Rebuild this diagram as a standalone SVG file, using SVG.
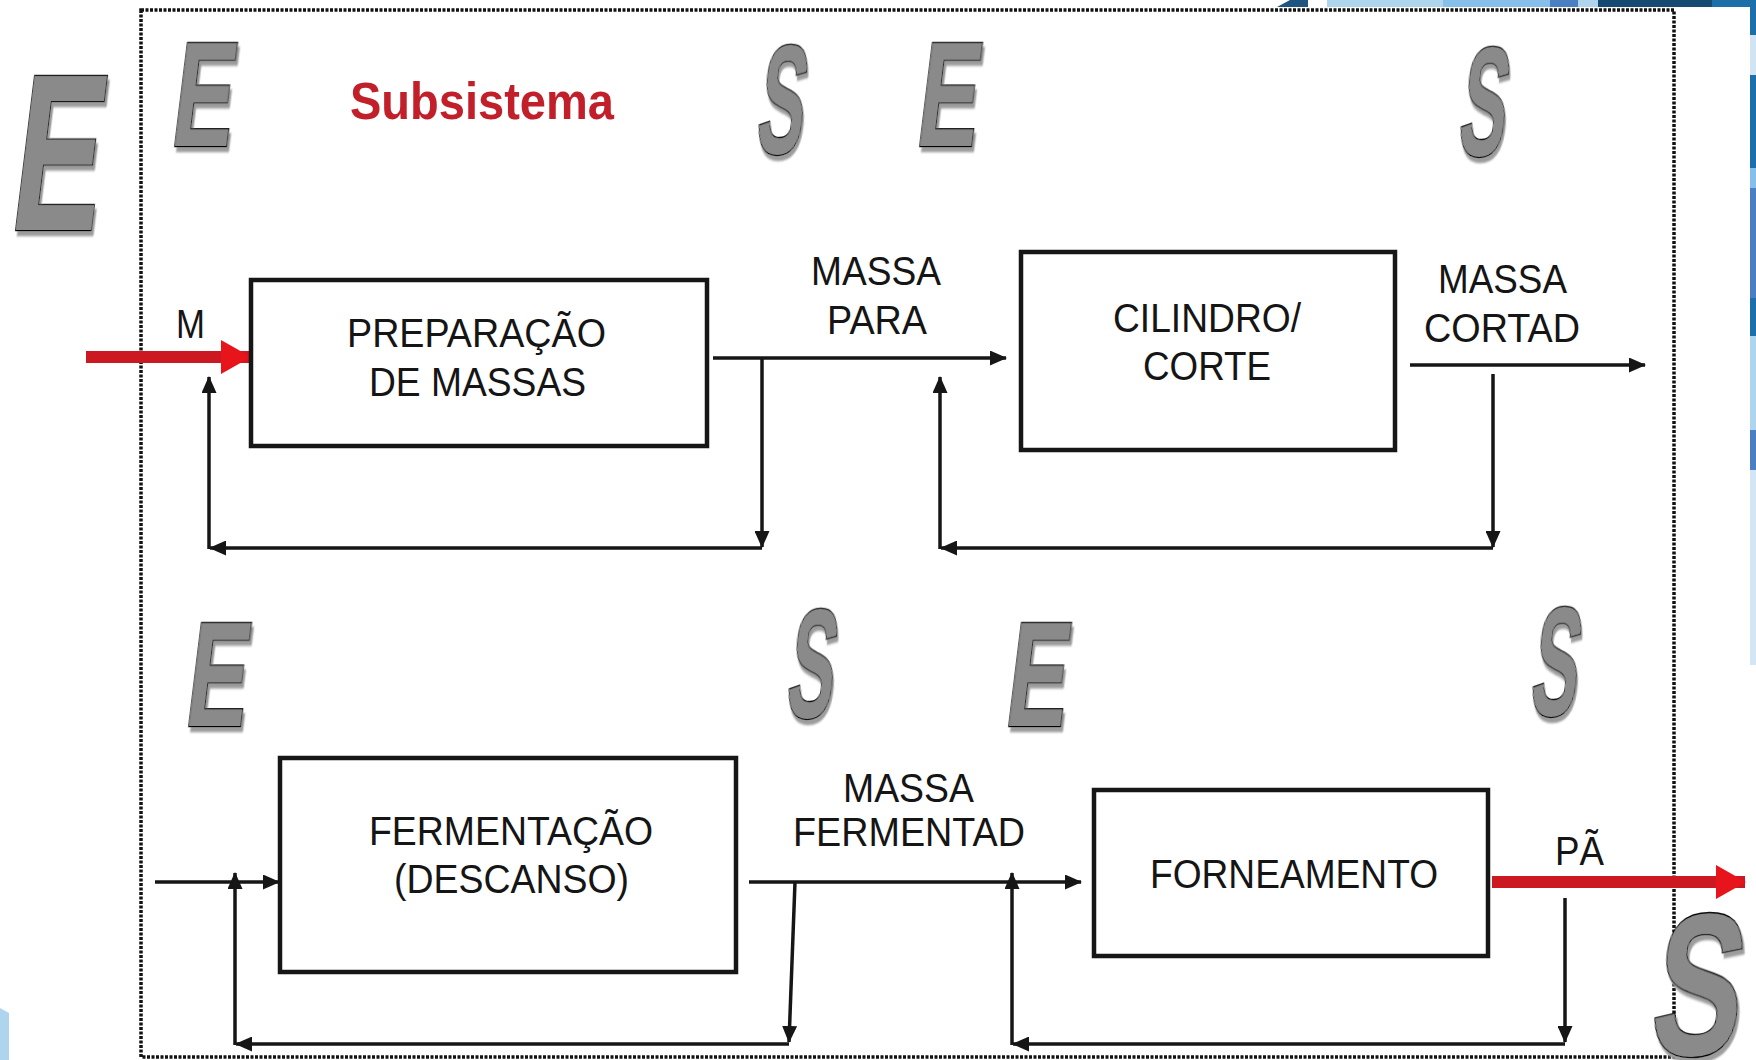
<svg xmlns="http://www.w3.org/2000/svg" width="1756" height="1060" viewBox="0 0 1756 1060">
<style>
.lbl{font-family:"Liberation Sans",Arial,sans-serif;font-size:41px;fill:#151515}
.box{fill:#fff;stroke:#161616;stroke-width:4.5}
.ln{fill:none;stroke:#161616;stroke-width:3.5}
.red{fill:none;stroke:#cc1820;stroke-width:12}
.wa{font-family:"Liberation Sans",Arial,sans-serif;font-weight:bold;fill:#8a8a8a;stroke:#000;stroke-width:2.6;paint-order:stroke;filter:url(#sh)}
.title{font-family:"Liberation Sans",Arial,sans-serif;font-weight:bold;font-size:52px;fill:#c1202b}
</style>
<defs>
<marker id="ah" markerUnits="userSpaceOnUse" markerWidth="17" markerHeight="15" refX="16" refY="7.5" orient="auto">
<path d="M0,0 L17,7.5 L0,15 z" fill="#161616"/>
</marker>
<marker id="rah" markerUnits="userSpaceOnUse" markerWidth="30" markerHeight="34" refX="29" refY="17" orient="auto">
<path d="M0,0 L30,17 L0,34 z" fill="#e8141c"/>
</marker>
<filter id="sh" x="-20%" y="-20%" width="150%" height="150%">
<feDropShadow dx="4" dy="5" stdDeviation="0.8" flood-color="#9c9c9c" flood-opacity="1"/>
</filter>
</defs>

<rect width="1756" height="1060" fill="#fff"/>

<g id="decor">
<polygon points="1277,7 1290,0 1308,0 1308,7" fill="#1d5580"/>
<rect x="1327" y="0" width="116" height="7" fill="#aed4ee"/>
<rect x="1443" y="0" width="107" height="7" fill="#86c0ea"/>
<rect x="1550" y="0" width="28" height="7" fill="#4a7fc1"/>
<rect x="1578" y="0" width="20" height="7" fill="#aed4ee"/>
<rect x="1598" y="0" width="114" height="7" fill="#174a73"/>
<rect x="1712" y="0" width="44" height="7" fill="#1c6fa9"/>
<rect x="1750" y="0" width="6" height="35" fill="#1c6fa9"/>
<rect x="1750" y="35" width="6" height="40" fill="#d0e4f4"/>
<rect x="1750" y="75" width="6" height="93" fill="#1c6fa9"/>
<rect x="1750" y="168" width="6" height="20" fill="#86c0ea"/>
<rect x="1750" y="188" width="6" height="110" fill="#4a7fc1"/>
<rect x="1750" y="298" width="6" height="38" fill="#1c6fa9"/>
<rect x="1750" y="336" width="6" height="94" fill="#aed4ee"/>
<rect x="1750" y="430" width="6" height="40" fill="#4a7fc1"/>
<rect x="1750" y="470" width="6" height="195" fill="#d3e6f5"/>
<polygon points="0,1008 9,1013 9,1060 0,1060" fill="#aed4ee"/>
</g>

<g id="border">
<rect x="141" y="10" width="1533" height="1047" fill="none" stroke="#111" stroke-width="3.5" stroke-dasharray="3 1.5"/>
</g>

<g id="letters">
<text class="wa" font-size="223" transform="translate(7,230) skewX(-7) scale(0.6,1)">E</text>
<text class="wa" font-size="150" transform="translate(169,146) skewX(-7) scale(0.61,1)">E</text>
<text class="wa" font-size="155" transform="translate(754,153) skewX(-7) scale(0.45,1)">S</text>
<text class="wa" font-size="150" transform="translate(914,146) skewX(-7) scale(0.61,1)">E</text>
<text class="wa" font-size="155" transform="translate(1456,155) skewX(-7) scale(0.45,1)">S</text>
<text class="wa" font-size="150" transform="translate(183,726) skewX(-7) scale(0.61,1)">E</text>
<text class="wa" font-size="155" transform="translate(784,717) skewX(-7) scale(0.45,1)">S</text>
<text class="wa" font-size="150" transform="translate(1003,726) skewX(-7) scale(0.61,1)">E</text>
<text class="wa" font-size="155" transform="translate(1528,715) skewX(-7) scale(0.45,1)">S</text>
<text class="wa" font-size="203" transform="translate(1647,1055) skewX(-7) scale(0.66,1)">S</text>
</g>

<g id="title">
<text class="title" x="350" y="119" textLength="264" lengthAdjust="spacingAndGlyphs">Subsistema</text>
</g>

<g id="connectors">
<path class="red" d="M86,357 H250" marker-end="url(#rah)"/>
<path class="ln" d="M713,358 H1006" marker-end="url(#ah)"/>
<path class="ln" d="M762,358 V547" marker-end="url(#ah)"/>
<path class="ln" d="M762,548 H210" marker-end="url(#ah)"/>
<path class="ln" d="M209,549 V377" marker-end="url(#ah)"/>
<path class="ln" d="M1493,374 V547" marker-end="url(#ah)"/>
<path class="ln" d="M1493,548 H941" marker-end="url(#ah)"/>
<path class="ln" d="M940,549 V377" marker-end="url(#ah)"/>
<path class="ln" d="M1410,365 H1645" marker-end="url(#ah)"/>
<path class="ln" d="M155,882 H279" marker-end="url(#ah)"/>
<path class="ln" d="M795,882 L789,1042" marker-end="url(#ah)"/>
<path class="ln" d="M789,1044 H236" marker-end="url(#ah)"/>
<path class="ln" d="M235,1045 V873" marker-end="url(#ah)"/>
<path class="ln" d="M749,882 H1081" marker-end="url(#ah)"/>
<path class="ln" d="M1565,898 V1042" marker-end="url(#ah)"/>
<path class="ln" d="M1565,1044 H1013" marker-end="url(#ah)"/>
<path class="ln" d="M1012,1045 V873" marker-end="url(#ah)"/>
<path class="red" d="M1492,882 H1745" marker-end="url(#rah)"/>
</g>

<g id="labels">
<text class="lbl" x="176" y="338" textLength="29" lengthAdjust="spacingAndGlyphs">M</text>
<text class="lbl" x="811" y="285" textLength="130" lengthAdjust="spacingAndGlyphs">MASSA</text>
<text class="lbl" x="827" y="334" textLength="100" lengthAdjust="spacingAndGlyphs">PARA</text>
<text class="lbl" x="1438" y="293" textLength="129" lengthAdjust="spacingAndGlyphs">MASSA</text>
<text class="lbl" x="1424" y="342" textLength="156" lengthAdjust="spacingAndGlyphs">CORTAD</text>
<text class="lbl" x="843" y="802" textLength="131" lengthAdjust="spacingAndGlyphs">MASSA</text>
<text class="lbl" x="793" y="846" textLength="232" lengthAdjust="spacingAndGlyphs">FERMENTAD</text>
<text class="lbl" x="1555" y="865" textLength="49" lengthAdjust="spacingAndGlyphs">PÃ</text>
</g>

<g id="node-preparacao">
<rect class="box" x="251" y="280" width="456" height="166"/>
<text class="lbl" x="347" y="347" textLength="259" lengthAdjust="spacingAndGlyphs">PREPARAÇÃO</text>
<text class="lbl" x="369" y="396" textLength="217" lengthAdjust="spacingAndGlyphs">DE MASSAS</text>
</g>

<g id="node-cilindro">
<rect class="box" x="1021" y="252" width="374" height="198"/>
<text class="lbl" x="1113" y="332" textLength="188" lengthAdjust="spacingAndGlyphs">CILINDRO/</text>
<text class="lbl" x="1143" y="380" textLength="128" lengthAdjust="spacingAndGlyphs">CORTE</text>
</g>

<g id="node-fermentacao">
<rect class="box" x="280" y="758" width="456" height="214"/>
<text class="lbl" x="369" y="845" textLength="284" lengthAdjust="spacingAndGlyphs">FERMENTAÇÃO</text>
<text class="lbl" x="394" y="893" textLength="235" lengthAdjust="spacingAndGlyphs">(DESCANSO)</text>
</g>

<g id="node-forneamento">
<rect class="box" x="1094" y="790" width="394" height="166"/>
<text class="lbl" x="1150" y="888" textLength="288" lengthAdjust="spacingAndGlyphs">FORNEAMENTO</text>
</g>
</svg>
